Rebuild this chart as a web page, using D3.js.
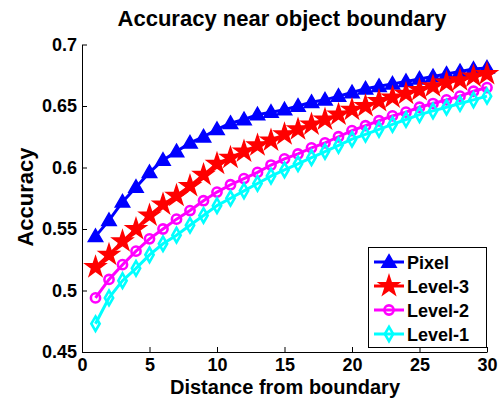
<!DOCTYPE html>
<html>
<head>
<meta charset="utf-8">
<script src="https://cdn.jsdelivr.net/npm/d3@7"></script>
<style>
  body { margin: 0; background: #fff; }
  svg text { font-family: "Liberation Sans", Arial, sans-serif; font-weight: bold; fill: #000; }
</style>
</head>
<body>
<svg id="chart" width="500" height="398"></svg>
<script>
// distance from boundary (x)
const distances = d3.range(1, 31);

// accuracy per method
const pixel = [0.544, 0.557, 0.572, 0.584, 0.596, 0.606, 0.613, 0.620, 0.625, 0.631,
               0.636, 0.639, 0.643, 0.645, 0.647, 0.650, 0.653, 0.655, 0.658, 0.661,
               0.664, 0.666, 0.668, 0.670, 0.672, 0.674, 0.676, 0.678, 0.680, 0.681];
const level3 = [0.519, 0.529, 0.540, 0.550, 0.561, 0.570, 0.577, 0.585, 0.594, 0.603,
                0.608, 0.613, 0.618, 0.622, 0.627, 0.631, 0.635, 0.639, 0.643, 0.647,
                0.650, 0.654, 0.657, 0.660, 0.663, 0.666, 0.669, 0.671, 0.674, 0.676];
const level2 = [0.494, 0.509, 0.521, 0.532, 0.542, 0.550, 0.558, 0.565, 0.573, 0.580,
                0.586, 0.591, 0.596, 0.602, 0.607, 0.611, 0.616, 0.620, 0.625, 0.630,
                0.634, 0.638, 0.642, 0.645, 0.649, 0.652, 0.655, 0.658, 0.662, 0.665];
const level1 = [0.473, 0.494, 0.508, 0.518, 0.529, 0.538, 0.545, 0.553, 0.561, 0.569,
                0.575, 0.581, 0.587, 0.593, 0.598, 0.603, 0.608, 0.613, 0.618, 0.623,
                0.627, 0.631, 0.635, 0.639, 0.643, 0.646, 0.649, 0.652, 0.655, 0.658];

const seriesNames = ["Pixel", "Level-3", "Level-2", "Level-1"];
const xTicks = [0, 5, 10, 15, 20, 25, 30];
const yTicks = [0.45, 0.5, 0.55, 0.6, 0.65, 0.7];

const series = [
  { name: seriesNames[0], values: pixel,  color: "#0000ff", marker: "triangle" },
  { name: seriesNames[1], values: level3, color: "#ff0000", marker: "star" },
  { name: seriesNames[2], values: level2, color: "#ff00ff", marker: "circle" },
  { name: seriesNames[3], values: level1, color: "#00ffff", marker: "diamond" }
];

const svg = d3.select("#chart");
const plot = { left: 82, right: 487, top: 44.5, bottom: 352 };

const x = d3.scaleLinear().domain([0, 30]).range([plot.left, plot.right]);
const y = d3.scaleLinear().domain([0.45, 0.7]).range([plot.bottom, plot.top]);

// axes (left + bottom only, ticks pointing inward)
const fmt = d => String(+d.toFixed(2));
svg.append("g")
  .attr("transform", `translate(0,${plot.bottom})`)
  .call(d3.axisBottom(x).tickValues(xTicks).tickSizeInner(-5).tickSizeOuter(0).tickPadding(6).tickFormat(d3.format("d")))
  .call(g => g.select(".domain").attr("stroke", "#000"))
  .call(g => g.selectAll("text").style("font-size", "18px").attr("font-family", null));

svg.append("g")
  .attr("transform", `translate(${plot.left},0)`)
  .call(d3.axisLeft(y).tickValues(yTicks).tickSizeInner(-5).tickSizeOuter(0).tickPadding(5).tickFormat(fmt))
  .call(g => g.select(".domain").attr("stroke", "#000"))
  .call(g => g.selectAll("text").style("font-size", "18px").attr("font-family", null));

// markers
const symbolFor = {
  triangle: d3.symbol(d3.symbolTriangle, 90),
  star: d3.symbol(d3.symbolStar, 125),
  diamond: d3.symbol(d3.symbolDiamond, 60)
};

function drawMarker(g, kind, color, cx, cy) {
  if (kind === "circle") {
    g.append("circle").attr("cx", cx).attr("cy", cy).attr("r", 4.6)
      .attr("fill", "none").attr("stroke", color).attr("stroke-width", 2.6);
  } else if (kind === "diamond") {
    g.append("path").attr("d", symbolFor.diamond()).attr("transform", `translate(${cx},${cy})`)
      .attr("fill", "none").attr("stroke", color).attr("stroke-width", 2.6);
  } else {
    g.append("path").attr("d", symbolFor[kind]()).attr("transform", `translate(${cx},${cy + (kind === "triangle" ? 1 : 0)})`)
      .attr("fill", color).attr("stroke", color).attr("stroke-width", 1.5);
  }
}

const line = d3.line().x((d, i) => x(distances[i])).y(d => y(d));

series.forEach(s => {
  const g = svg.append("g");
  g.append("path").datum(s.values)
    .attr("d", line).attr("fill", "none").attr("stroke", s.color).attr("stroke-width", 3);
  s.values.forEach((v, i) => drawMarker(g, s.marker, s.color, x(distances[i]), y(v)));
});

// legend
const legend = svg.append("g");
legend.append("rect").attr("x", 368.5).attr("y", 247.5).attr("width", 118).attr("height", 100)
  .attr("fill", "#fff").attr("stroke", "#000").attr("stroke-width", 1);
series.forEach((s, i) => {
  const ly = 262 + i * 24;
  legend.append("line").attr("x1", 374).attr("x2", 404).attr("y1", ly).attr("y2", ly)
    .attr("stroke", s.color).attr("stroke-width", 3);
  drawMarker(legend, s.marker, s.color, 389, ly);
  legend.append("text").attr("x", 407).attr("y", ly + 6.5).style("font-size", "18px").text(s.name);
});

// titles
svg.append("text").attr("x", 282).attr("y", 26).attr("text-anchor", "middle")
  .style("font-size", "22px").text("Accuracy near object boundary");
svg.append("text").attr("x", 285).attr("y", 393.5).attr("text-anchor", "middle")
  .style("font-size", "20px").text("Distance from boundary");
svg.append("text").attr("transform", "translate(33,197) rotate(-90)").attr("text-anchor", "middle")
  .style("font-size", "22px").text("Accuracy");
</script>
</body>
</html>
